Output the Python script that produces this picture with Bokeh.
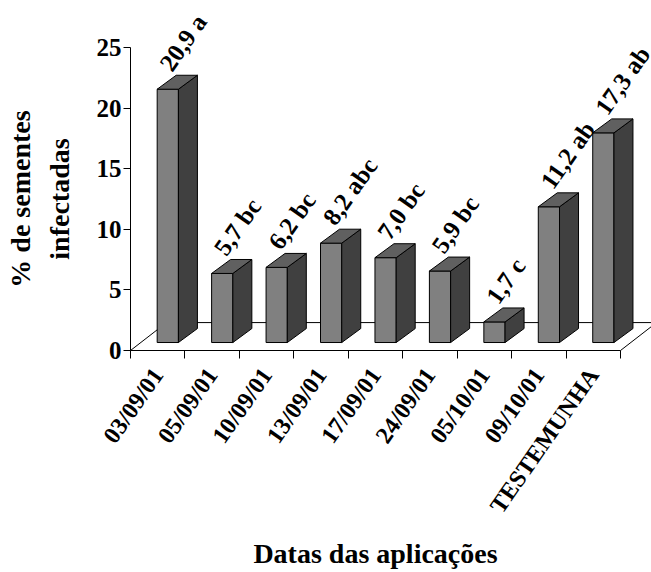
import math
from bokeh.plotting import figure
from bokeh.models import Range1d, FixedTicker, ColumnDataSource
from bokeh.core.properties import value
from bokeh.embed import file_html
from bokeh.resources import INLINE

# ---- data ----
categories = ["03/09/01", "05/09/01", "10/09/01", "13/09/01", "17/09/01",
              "24/09/01", "05/10/01", "09/10/01", "TESTEMUNHA"]
values = [20.9, 5.7, 6.2, 8.2, 7.0, 5.9, 1.7, 11.2, 17.3]
letters = ["a", "bc", "bc", "abc", "bc", "bc", "c", "ab", "ab"]
y_ticks = [0, 5, 10, 15, 20, 25]
x_title = "Datas das aplicações"
y_title = "% de sementes\ninfectadas"

# ---- style / geometry constants ----
FONT = "Liberation Serif"
PX_X = 490 / 9.0      # pixels per category unit
PX_Y = 304 / 25.0     # pixels per value unit
FLOOR_DX = 36 / PX_X
FLOOR_DY = 28 / PX_Y
BAR_LEFT = 0.49
BAR_W = 0.39
BAR_BASE = 8 / PX_Y
BAR_DX = 19 / PX_X
BAR_DY = 14 / PX_Y
C_FRONT, C_SIDE, C_TOP = "#808080", "#404040", "#606060"
ANG = math.radians(55)

n = len(categories)
p = figure(width=651, height=572, x_range=Range1d(0, n), y_range=Range1d(0, y_ticks[-1]),
           output_backend="svg", toolbar_location=None,
           min_border_left=130, min_border_right=31, min_border_top=47, min_border_bottom=221)
p.outline_line_color = None
p.grid.visible = False
p.background_fill_color = "white"
p.border_fill_color = "white"

# ---- y axis ----
ya = p.yaxis[0]
ya.ticker = FixedTicker(ticks=y_ticks)
ya.major_tick_out = 7
ya.major_tick_in = 0
ya.minor_tick_out = 0
ya.minor_tick_in = 0
ya.axis_line_color = "black"
ya.major_tick_line_color = "black"
ya.major_label_standoff = 2
ya.major_label_text_font = FONT
ya.major_label_text_font_style = "bold"
ya.major_label_text_font_size = "25px"
ya.major_label_text_color = "black"
ya.axis_label = y_title
ya.axis_label_text_font = FONT
ya.axis_label_text_font_style = "bold"
ya.axis_label_text_font_size = "28px"
ya.axis_label_text_color = "black"
ya.axis_label_text_line_height = 1.25
ya.axis_label_standoff = 19

# ---- x axis ----
centers = [i + 0.5 for i in range(n)]
bounds = [float(i) for i in range(n + 1)]
xa = p.xaxis[0]
xa.ticker = FixedTicker(ticks=centers, minor_ticks=bounds)
xa.major_label_overrides = {c: lab for c, lab in zip(centers, categories)}
xa.major_tick_out = 0
xa.major_tick_in = 0
xa.minor_tick_out = 8
xa.minor_tick_in = 0
xa.axis_line_color = "black"
xa.minor_tick_line_color = "black"
xa.major_label_orientation = ANG
xa.major_label_standoff = 12
xa.major_label_text_font = FONT
xa.major_label_text_font_style = "bold"
xa.major_label_text_font_size = "24px"
xa.major_label_text_color = "black"
xa.axis_label = x_title
xa.axis_label_text_font = FONT
xa.axis_label_text_font_style = "bold"
xa.axis_label_text_font_size = "28px"
xa.axis_label_text_color = "black"
xa.axis_label_standoff = 10

# ---- 3D floor ----
floor = p.multi_line(xs=[[0, FLOOR_DX, n + FLOOR_DX], [n, n + FLOOR_DX]],
                     ys=[[0, FLOOR_DY, FLOOR_DY], [0, FLOOR_DY]],
                     line_color="black", line_width=1)
floor.level = "overlay"

# ---- 3D bars ----
fx, fy, sx, sy, tx, ty = [], [], [], [], [], []
lx, ly, labels = [], [], []
for i, (v, l) in enumerate(zip(values, letters)):
    x0 = i + BAR_LEFT
    x1 = x0 + BAR_W
    y0 = BAR_BASE
    y1 = BAR_BASE + v
    fx.append([x0, x1, x1, x0]); fy.append([y0, y0, y1, y1])
    sx.append([x1, x1 + BAR_DX, x1 + BAR_DX, x1]); sy.append([y0, y0 + BAR_DY, y1 + BAR_DY, y1])
    tx.append([x0, x1, x1 + BAR_DX, x0 + BAR_DX]); ty.append([y1, y1, y1 + BAR_DY, y1 + BAR_DY])
    lx.append(x0); ly.append(y1)
    labels.append(f"{v:.1f}".replace(".", ",") + " " + l)

for xs, ys, col in [(fx, fy, C_FRONT), (sx, sy, C_SIDE), (tx, ty, C_TOP)]:
    r = p.patches(xs=xs, ys=ys, fill_color=col, line_color="black", line_width=1)
    r.level = "overlay"

src = ColumnDataSource(dict(x=lx, y=ly, text=labels))
t = p.text(x="x", y="y", text="text", source=src, angle=ANG,
           x_offset=8, y_offset=-21, text_align="left", text_baseline="alphabetic",
           text_font=value(FONT), text_font_style="bold", text_font_size="25px",
           text_color="black")
t.level = "overlay"

open("out.html", "w").write(file_html(p, INLINE))
